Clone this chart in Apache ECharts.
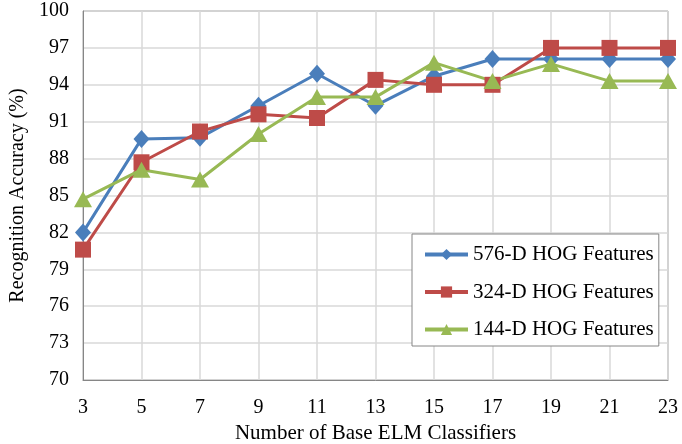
<!DOCTYPE html>
<html>
<head>
<meta charset="utf-8">
<script src="https://cdn.jsdelivr.net/npm/echarts@6/dist/echarts.min.js"></script>
<style>
  html, body { margin: 0; padding: 0; background: #fff; }
  #chart { width: 682px; height: 444px; }
</style>
</head>
<body>
<div id="chart"></div>
<script>
// number of base ELM classifiers
var categories = ['3', '5', '7', '9', '11', '13', '15', '17', '19', '21', '23'];
var hog576 = [82.0, 89.6, 89.7, 92.3, 94.9, 92.3, 94.7, 96.1, 96.1, 96.1, 96.1];
var hog324 = [80.6, 87.7, 90.2, 91.6, 91.3, 94.4, 94.0, 94.0, 97.0, 97.0, 97.0];
var hog144 = [84.7, 87.1, 86.3, 90.0, 93.0, 93.0, 95.8, 94.3, 95.7, 94.3, 94.3];
var seriesNames = ['576-D HOG Features', '324-D HOG Features', '144-D HOG Features'];

var font = 'Liberation Serif, Times New Roman, serif';
var chart = echarts.init(document.getElementById('chart'));

function makeSeries(name, data, color, symbol, size) {
  return {
    name: name,
    type: 'line',
    data: data,
    symbol: symbol,
    symbolSize: size,
    showAllSymbol: true,
    lineStyle: { color: color, width: 3 },
    itemStyle: { color: color },
    emphasis: { disabled: true },
    animation: false
  };
}

chart.setOption({
  grid: {
    left: 83, right: 14, top: 11, bottom: 64,
    outerBoundsMode: 'none',
    show: true, borderColor: '#868686', borderWidth: 1
  },
  legend: {
    data: seriesNames,
    orient: 'vertical',
    left: 412, top: 234,
    itemWidth: 43, itemHeight: 14, itemGap: 16.5,
    padding: [10, 5, 6, 11],
    borderColor: '#868686', borderWidth: 1,
    backgroundColor: '#fff',
    lineStyle: { width: 4 },
    textStyle: { fontFamily: font, fontSize: 21, color: '#000' }
  },
  xAxis: {
    type: 'category',
    data: categories,
    boundaryGap: false,
    name: 'Number of Base ELM Classifiers',
    nameLocation: 'middle',
    nameGap: 43,
    nameTextStyle: { fontFamily: font, fontSize: 21, color: '#000' },
    axisLine: { lineStyle: { color: '#868686' } },
    axisTick: { show: false },
    axisLabel: { fontFamily: font, fontSize: 20, color: '#000', margin: 18 },
    splitLine: { show: true, lineStyle: { color: '#d9d9d9', width: 1.5 } }
  },
  yAxis: {
    type: 'value',
    min: 70, max: 100, interval: 3,
    name: 'Recognition Accuracy (%)',
    nameLocation: 'middle',
    nameGap: 55,
    nameTextStyle: { fontFamily: font, fontSize: 20, color: '#000' },
    axisLine: { show: true, lineStyle: { color: '#868686' } },
    axisTick: { show: false },
    axisLabel: { fontFamily: font, fontSize: 20, color: '#000', margin: 14 },
    splitLine: { lineStyle: { color: '#d9d9d9', width: 1.5 } }
  },
  series: [
    makeSeries(seriesNames[0], hog576, '#4a7ebb', 'diamond', [16, 18]),
    makeSeries(seriesNames[1], hog324, '#be4b48', 'rect', 16),
    makeSeries(seriesNames[2], hog144, '#98b954', 'triangle', [18, 16])
  ]
});

window.addEventListener('resize', function () { chart.resize(); });
</script>
</body>
</html>
